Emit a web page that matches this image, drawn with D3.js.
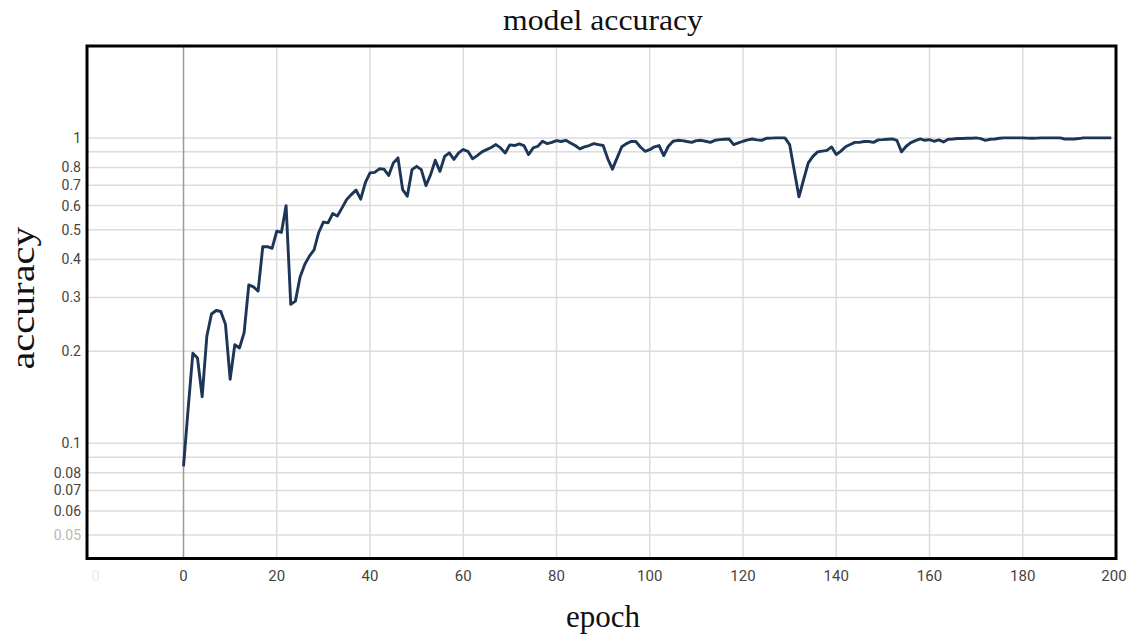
<!DOCTYPE html>
<html>
<head>
<meta charset="utf-8">
<script src="https://cdn.jsdelivr.net/npm/d3@7"></script>
<style>
  body { margin: 0; background: #fff; }
  svg { display: block; }
</style>
</head>
<body>
<div id="chart"></div>
<script>
// model accuracy per epoch, log y axis

const width = 1137;
const height = 637;

// accuracy for epochs 0..199
const accuracy = [
  0.084, 0.13, 0.197, 0.19, 0.142, 0.224, 0.265, 0.272, 0.27, 0.245,
  0.162, 0.21, 0.205, 0.23, 0.33, 0.325, 0.315, 0.44, 0.44, 0.435,
  0.495, 0.49, 0.60, 0.285, 0.292, 0.35, 0.385, 0.41, 0.43, 0.49,
  0.53, 0.527, 0.565, 0.555, 0.59, 0.628, 0.652, 0.675, 0.63, 0.713,
  0.768, 0.771, 0.792, 0.79, 0.753, 0.828, 0.86, 0.677, 0.644, 0.787,
  0.807, 0.787, 0.698, 0.758, 0.845, 0.777, 0.87, 0.893, 0.85, 0.893,
  0.916, 0.904, 0.854, 0.875, 0.9, 0.915, 0.93, 0.951, 0.927, 0.893,
  0.949, 0.944, 0.956, 0.944, 0.882, 0.927, 0.939, 0.975, 0.958, 0.967,
  0.98, 0.973, 0.982, 0.963, 0.944, 0.92, 0.934, 0.944, 0.958, 0.951,
  0.944, 0.854, 0.79, 0.86, 0.935, 0.958, 0.973, 0.973, 0.934, 0.904,
  0.915, 0.935, 0.944, 0.875, 0.939, 0.975, 0.982, 0.98, 0.973, 0.967,
  0.98, 0.982, 0.975, 0.967, 0.982, 0.987, 0.99, 0.992, 0.951, 0.963,
  0.975, 0.985, 0.992, 0.985, 0.982, 0.997, 0.998, 1.0, 1.0, 1.0,
  0.951, 0.78, 0.641, 0.73, 0.828, 0.87, 0.9, 0.905, 0.91, 0.934,
  0.882, 0.905, 0.935, 0.951, 0.967, 0.967, 0.973, 0.973, 0.967, 0.985,
  0.987, 0.99, 0.992, 0.982, 0.9, 0.939, 0.965, 0.98, 0.992, 0.982,
  0.987, 0.975, 0.985, 0.97, 0.99, 0.992, 0.995, 0.995, 0.997, 0.997,
  1.0, 0.995, 0.982, 0.99, 0.992, 0.997, 1.0, 1.0, 1.0, 1.0,
  1.0, 0.998, 0.997, 0.998, 1.0, 1.0, 1.0, 1.0, 1.0, 0.992,
  0.992, 0.992, 0.995, 1.0, 1.0, 1.0, 1.0, 1.0, 1.0, 1.0
];
const epochs = accuracy.map((d, i) => i);

// tick labels
const xTicks = [0, 20, 40, 60, 80, 100, 120, 140, 160, 180, 200];
const yGrid = [1, 0.9, 0.8, 0.7, 0.6, 0.5, 0.4, 0.3, 0.2, 0.1, 0.09, 0.08, 0.07, 0.06, 0.05];
const yLabels = ["1", "0.8", "0.7", "0.6", "0.5", "0.4", "0.3", "0.2", "0.1", "0.08", "0.07", "0.06", "0.05"];

const plot = { left: 87, right: 1116, top: 46, bottom: 558.5 };

const x = d3.scaleLinear().domain([-20.7, 200]).range([plot.left, plot.right]);
const y = d3.scaleLog().domain([0.0419, 2.0]).range([plot.bottom, plot.top]);

const svg = d3.select("#chart").append("svg")
  .attr("width", width)
  .attr("height", height);

// GRID
const grid = svg.append("g");

grid.selectAll(".hgrid")
  .data(yGrid)
  .join("line")
  .attr("x1", plot.left).attr("x2", plot.right)
  .attr("y1", d => y(d)).attr("y2", d => y(d))
  .attr("stroke", "#dcdcdc")
  .attr("stroke-width", 1.5);

grid.selectAll(".vgrid")
  .data(xTicks.filter(d => d < 200))
  .join("line")
  .attr("x1", d => x(d)).attr("x2", d => x(d))
  .attr("y1", plot.top).attr("y2", plot.bottom)
  .attr("stroke", d => d === 0 ? "#9a9a9a" : "#dcdcdc")
  .attr("stroke-width", 1.5);

// LINE
const line = d3.line()
  .x((d, i) => x(epochs[i]))
  .y(d => y(d));

svg.append("path")
  .datum(accuracy)
  .attr("d", line)
  .attr("fill", "none")
  .attr("stroke", "#1d3557")
  .attr("stroke-width", 2.9)
  .attr("stroke-linejoin", "round");

// FRAME
svg.append("rect")
  .attr("x", plot.left).attr("y", plot.top)
  .attr("width", plot.right - plot.left)
  .attr("height", plot.bottom - plot.top)
  .attr("fill", "none")
  .attr("stroke", "#000")
  .attr("stroke-width", 3);

// Y TICK LABELS
svg.selectAll(".ylab")
  .data(yLabels)
  .join("text")
  .attr("x", 81)
  .attr("y", d => y(+d))
  .attr("dy", "0.35em")
  .attr("text-anchor", "end")
  .attr("font-family", "Roboto, sans-serif")
  .attr("font-size", 14)
  .attr("fill", d => d === "0.05" ? "#b8b8b8" : "#444")
  .text(d => d);

// X TICK LABELS (plus the faint ghost zero at the left)
svg.append("text")
  .attr("x", 95.5)
  .attr("y", 581)
  .attr("text-anchor", "middle")
  .attr("font-family", "Roboto, sans-serif")
  .attr("font-size", 15)
  .attr("fill", "#ececec")
  .text("0");

svg.selectAll(".xlab")
  .data(xTicks)
  .join("text")
  .attr("x", d => d === 200 ? x(d) - 2 : x(d))
  .attr("y", 581)
  .attr("text-anchor", "middle")
  .attr("font-family", "Roboto, sans-serif")
  .attr("font-size", 15)
  .attr("fill", "#444")
  .text(d => d);

// TITLES
svg.append("text")
  .attr("x", 603)
  .attr("y", 30)
  .attr("text-anchor", "middle")
  .attr("font-family", "'Liberation Serif', 'Times New Roman', serif")
  .attr("font-size", 30)
  .attr("textLength", 200)
  .attr("lengthAdjust", "spacingAndGlyphs")
  .attr("fill", "#111")
  .text("model accuracy");

svg.append("text")
  .attr("x", 603)
  .attr("y", 627)
  .attr("text-anchor", "middle")
  .attr("font-family", "'Liberation Serif', 'Times New Roman', serif")
  .attr("font-size", 31)
  .attr("fill", "#111")
  .text("epoch");

svg.append("text")
  .attr("transform", "translate(34,298) rotate(-90)")
  .attr("text-anchor", "middle")
  .attr("font-family", "'Liberation Serif', 'Times New Roman', serif")
  .attr("font-size", 34)
  .attr("textLength", 143)
  .attr("lengthAdjust", "spacingAndGlyphs")
  .attr("fill", "#111")
  .text("accuracy");
</script>
</body>
</html>
